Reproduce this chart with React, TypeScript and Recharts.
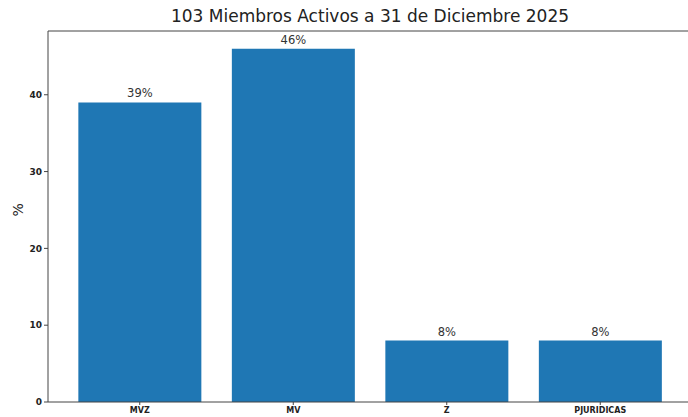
import React from "react";
import {
  BarChart,
  Bar,
  XAxis,
  YAxis,
  LabelList,
  ReferenceLine,
} from "recharts";

// categories and percentages
const categories = ["MVZ", "MV", "Z", "PJURIDICAS"];
const percents = [39, 46, 8, 8];
const yTicks = [0, 10, 20, 30, 40];
const yMax = 48.3;

const chartData = categories.map((name, i) => ({ name, value: percents[i] }));

const App: React.FC = () => {
  return (
    <div
      style={{
        position: "absolute",
        left: 0,
        top: 0,
        width: 688,
        height: 417,
        background: "#fff",
        fontFamily: "'DejaVu Sans', sans-serif",
      }}
    >
      <div
        style={{
          position: "absolute",
          top: 6,
          left: 48,
          width: 644,
          textAlign: "center",
          fontSize: 17,
          color: "#222",
        }}
      >
        103 Miembros Activos a 31 de Diciembre 2025
      </div>
      <BarChart
        width={692}
        height={417}
        data={chartData}
        margin={{ top: 31, right: 0, bottom: 0, left: 0 }}
        barCategoryGap="10%"
      >
        <XAxis
          dataKey="name"
          height={15}
          padding={{ left: 15, right: 15 }}
          tick={{ fontSize: 8, fontWeight: 700, fill: "#222" }}
          tickSize={3}
          tickMargin={2}
          axisLine={{ stroke: "#444" }}
          tickLine={{ stroke: "#444" }}
          interval={0}
        />
        <YAxis
          width={48}
          domain={[0, yMax]}
          ticks={yTicks}
          tick={{ fontSize: 9, fontWeight: 700, fill: "#222" }}
          tickSize={4}
          tickMargin={2}
          axisLine={{ stroke: "#444" }}
          tickLine={{ stroke: "#444" }}
          label={{
            value: "%",
            angle: -90,
            position: "insideLeft",
            offset: 18,
            style: { fontSize: 14, fill: "#222" },
          }}
        />
        <ReferenceLine y={yMax} stroke="#444" />
        <Bar dataKey="value" fill="#1f77b4" isAnimationActive={false}>
          <LabelList
            dataKey="value"
            position="top"
            offset={5}
            formatter={(v: any) => `${v}%`}
            style={{ fontSize: 11.5, fill: "#333" }}
          />
        </Bar>
      </BarChart>
    </div>
  );
};

export default App;
